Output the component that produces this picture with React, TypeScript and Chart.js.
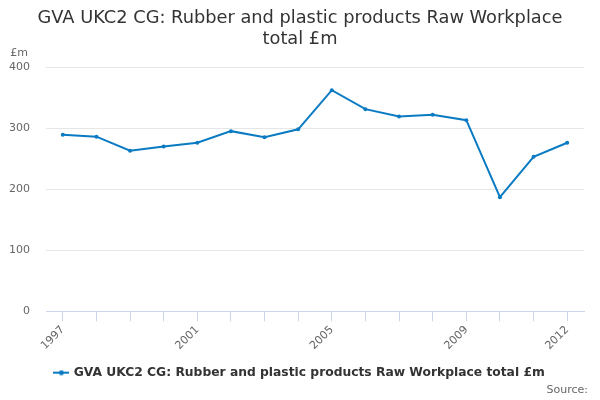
import React, { useEffect, useRef } from "react";
import { Chart, registerables } from "chart.js";

Chart.register(...registerables);

const titleLines = ["GVA UKC2 CG: Rubber and plastic products Raw Workplace", "total £m"];
const seriesName = "GVA UKC2 CG: Rubber and plastic products Raw Workplace total £m";
const years = ["1997", "1998", "1999", "2000", "2001", "2002", "2003", "2004", "2005", "2006", "2007", "2008", "2009", "2010", "2011", "2012"];
const values = [289, 286, 263, 270, 276, 295, 285, 298, 362, 331, 319, 322, 313, 187, 253, 276];
const shownYears = ["1997", "2001", "2005", "2009", "2012"];
const unitLabel = "£m";
const sourceText = "Source:";

const LINE = "#0a7bc2";
const FONT = "'DejaVu Sans', Verdana, sans-serif";

function makeLegendIcon(): HTMLCanvasElement {
  const c = document.createElement("canvas");
  c.width = 16;
  c.height = 6;
  const ctx = c.getContext("2d")!;
  ctx.strokeStyle = LINE;
  ctx.lineWidth = 2;
  ctx.beginPath();
  ctx.moveTo(0, 3);
  ctx.lineTo(16, 3);
  ctx.stroke();
  ctx.fillStyle = LINE;
  ctx.beginPath();
  ctx.arc(8, 3, 2.5, 0, Math.PI * 2);
  ctx.fill();
  return c;
}

const textPlugin = {
  id: "extraText",
  afterDraw(chart: any) {
    const { ctx, chartArea, width, height } = chart;
    ctx.save();
    ctx.font = `11px ${FONT}`;
    ctx.fillStyle = "#666666";
    ctx.textAlign = "right";
    ctx.textBaseline = "middle";
    ctx.fillText(unitLabel, chartArea.left - 18, chartArea.top - 14);
    ctx.fillText(sourceText, width - 12, height - 9.5);
    ctx.restore();
  },
};

export default function App() {
  const ref = useRef<HTMLCanvasElement>(null);
  useEffect(() => {
    if (!ref.current) return;
    const icon = makeLegendIcon();
    const chart = new Chart(ref.current, {
      type: "line",
      data: {
        labels: years,
        datasets: [
          {
            label: seriesName,
            data: values,
            borderColor: LINE,
            backgroundColor: LINE,
            borderWidth: 2,
            pointRadius: 2,
            pointHoverRadius: 2,
            pointBackgroundColor: LINE,
            pointBorderWidth: 0,
            tension: 0,
            pointStyle: "circle",
            yAxisID: "y",
          },
        ],
      },
      options: {
        animation: false,
        responsive: false,
        maintainAspectRatio: false,
        layout: { padding: { left: 0, right: 0, top: 8, bottom: 11.2 } },
        plugins: {
          title: {
            display: true,
            text: titleLines,
            color: "#333333",
            font: { family: FONT, size: 17.8, weight: "normal", lineHeight: 1.18 },
            padding: { top: 0, bottom: 17 },
          },
          legend: {
            position: "bottom",
            labels: {
              usePointStyle: true,
              pointStyle: icon as any,
              color: "#333333",
              font: { family: FONT, size: 12.3, weight: "bold" },
              padding: 3,
              generateLabels: () => [
                {
                  text: seriesName,
                  pointStyle: icon,
                  fillStyle: LINE,
                  strokeStyle: LINE,
                  lineWidth: 0,
                  datasetIndex: 0,
                  fontColor: "#333333",
                } as any,
              ],
            },
          },
          tooltip: { enabled: false },
        },
        scales: {
          x: {
            offset: true,
            afterFit: (s: any) => {
              s.height = s.height + 9;
            },
            grid: {
              drawOnChartArea: false,
              drawTicks: true,
              tickLength: 10,
              color: "#ccd6eb",
              offset: false,
            },
            border: { display: true, color: "#ccd6eb", width: 1 },
            ticks: {
              autoSkip: false,
              maxRotation: 45,
              minRotation: 45,
              color: "#666666",
              font: { family: FONT, size: 11 },
              padding: 2,
              callback: (_v: any, i: number) => (shownYears.includes(years[i]) ? years[i] : ""),
            },
          },
          y: {
            min: 0,
            max: 400,
            afterFit: (s: any) => {
              s.width = 46;
            },
            grid: { color: "#e6e6e6", drawTicks: false, lineWidth: 1 },
            border: { display: false },
            ticks: {
              stepSize: 100,
              color: "#666666",
              font: { family: FONT, size: 11 },
              padding: 16,
            },
          },
          yRight: {
            type: "linear",
            position: "right",
            display: true,
            min: 0,
            max: 400,
            afterFit: (s: any) => {
              s.width = 16;
            },
            grid: { drawOnChartArea: false, drawTicks: false, display: false },
            border: { display: false },
            ticks: { display: false },
          },
        },
      },
      plugins: [textPlugin],
    });
    return () => chart.destroy();
  }, []);
  return (
    <div style={{ position: "absolute", left: 0, top: 0, width: 600, height: 400, background: "#fff" }}>
      <canvas ref={ref} width={600} height={400} style={{ width: 600, height: 400 }} />
    </div>
  );
}
